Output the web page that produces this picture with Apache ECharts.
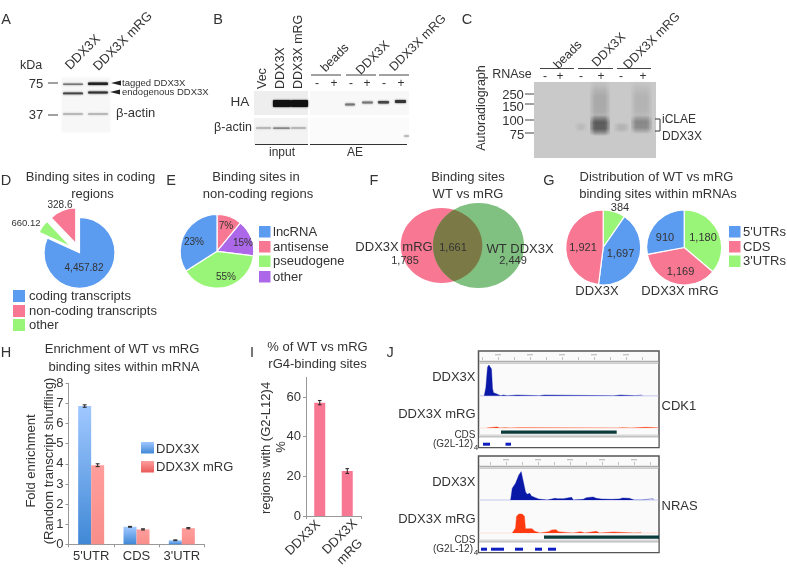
<!DOCTYPE html>
<html><head><meta charset="utf-8">
<style>html,body{margin:0;padding:0;background:#fff}#c{width:787px;height:569px;filter:blur(0.35px)}</style>
<script src="https://cdn.jsdelivr.net/npm/echarts@6/dist/echarts.min.js"></script>
</head><body><div id="c"></div>
<script>
// ---------- data ----------
const BLUE='#5B9BF0',PINK='#F87792',GREEN='#99F577',PURPLE='#AC68E8';
const dNames=['coding transcripts','other','non-coding transcripts'];
const dValues=[4457.82,328.6,660.12];
const dLabels=['4,457.82','660.12','328.6'];
const eNames=['antisense','other','pseudogene','lncRNA'];
const eValues=[11,16,39,34];
const eLabels=['7%','15%','55%','23%'];
const g1Values=[384,1697,1921];
const g2Values=[1180,1169,910];
const vennLabels=['1,785','1,661','2,449'];
const hCategories=["5'UTR",'CDS',"3'UTR"];
const hWT=[6.87,0.87,0.2];
const hMut=[3.93,0.74,0.8];
const hWTerr=[0.06,0.02,0.02];
const hMuterr=[0.07,0.03,0.03];
const iCategories=['DDX3X','DDX3X mRG'];
const iValues=[57.2,22.7];
const iErr=[1.1,1.2];
// coverage tracks: [position, height]
const cdk1WT=[[40,0],[45,25],[47,50],[50,85],[54,92],[58,90],[62,80],[65,22],[68,9],[76,6],[78,0],[90,0],[92,2],[98,2],[100,0],[110,0],[112,2],[140,2],[142,0],[207,0],[208,2],[222,2],[223,0],[433,0],[434,2],[452,2],[453,0],[498,0],[499,2],[518,2],[519,0]];
const cdk1Mut=[[48,0],[49,3],[78,3],[79,0],[88,0],[89,1],[102,1],[103,0],[120,0],[121,1],[145,1],[146,0],[445,0],[446,1],[460,1],[461,0],[487,0],[488,2],[530,2],[531,1],[568,1]];
const nrasWT=[[120,0],[125,35],[135,50],[145,75],[152,85],[158,82],[165,25],[170,17],[178,20],[183,12],[195,7],[205,3],[208,0],[231,0],[232,5],[255,5],[256,0],[261,0],[262,4],[280,4],[282,8],[305,8],[310,0],[340,2],[350,7],[370,9],[380,5],[395,3],[425,2],[428,0],[450,3],[460,6],[480,5],[495,0],[517,0],[518,4],[552,4],[553,0]];
const nrasMut=[[125,0],[135,15],[138,50],[145,57],[155,57],[162,50],[165,13],[185,13],[193,5],[195,0],[209,0],[210,4],[235,4],[245,9],[258,10],[265,4],[270,1],[295,1],[296,0],[311,0],[312,4],[332,4],[333,0],[345,0],[346,5],[380,5],[381,0],[390,0],[391,3],[432,3],[433,0],[494,0],[495,2],[515,2],[516,0]];
const cdsCDK1=[501,616.7], cdsNRAS=[544,659];
const g4CDK1=[[483,490],[505.5,511]];
const g4NRAS=[[481,487],[491,504],[515,523],[535,542],[548,556]];

// ---------- drawing helpers ----------
const FONT='"Liberation Sans",Arial,sans-serif', INK='#333';
const els=[];
function T(x,y,s,size,o){o=o||{};els.push({type:'text',x:x,y:y,rotation:(o.rot||0)*Math.PI/180,z:100,silent:true,
  style:{text:s,x:0,y:0,fontSize:size||13,fontFamily:FONT,fill:o.color||INK,align:o.align||'center',verticalAlign:'middle'}});}
function R(x,y,w,h,fill,o){o=o||{};const st={fill:fill};if(o.blur){st.shadowBlur=o.blur;st.shadowColor=o.sc||fill;}
  if(o.stroke){st.stroke=o.stroke;st.lineWidth=o.lw||1;}
  els.push({type:'rect',x:x,y:y,z:o.z||1,silent:true,shape:{x:0,y:0,width:w,height:h,r:o.r||0},style:st});}
function L(x1,y1,x2,y2,c,w){els.push({type:'line',z:5,silent:true,shape:{x1:x1,y1:y1,x2:x2,y2:y2},style:{stroke:c||'#333',lineWidth:w||1}});}
function Tri(x1,x2,y,h){els.push({type:'polygon',z:5,silent:true,shape:{points:[[x1,y],[x2,y-h],[x2,y+h]]},style:{fill:'#222'}});}
function band(x,y,w,h,c,blur){R(x,y,w,h,c,{blur:blur==null?2:blur,z:3,r:1});}
function swatch(x,y,w,h,c){R(x,y,w,h,c,{z:5});}
function soft(x,y,w,h,rgb,a){const n=4;for(let i=0;i<n;i++){
  const ins=i*1.5,al=a/n;
  const g=new echarts.graphic.LinearGradient(0,0,0,1,[{offset:0,color:'rgba('+rgb+',0)'},{offset:.35,color:'rgba('+rgb+','+al+')'},{offset:.65,color:'rgba('+rgb+','+al+')'},{offset:1,color:'rgba('+rgb+',0)'}]);
  R(x+ins,y,w-2*ins,h,g,{z:3,r:2});}}

// panel letters
[['A',6,20],['B',218,20],['C',467,20],['D',6,181],['E',171,181],['F',374,181],['G',549,181],['H',6,353],['I',252,353],['J',390,353]]
 .forEach(a=>T(a[1],a[2],a[0],14.5));

// ----- A -----
R(62,78,48,54,'#f7f7f7',{blur:3,sc:'#f7f7f7'});
band(63,83.5,20,1.4,'#777');band(88,82.5,20,2.6,'#222');
band(63,92.5,20,1.8,'#444');band(88,91.5,20,2,'#333');
band(63,113.5,20,1,'#999');band(88,113.5,20,1,'#999');
T(83,52.5,'DDX3X',13,{rot:45});T(123,41.5,'DDX3X mRG',13,{rot:45});
T(31,66,'kDa',12.5);T(36,84,'75',13);T(36,115,'37',13);
L(48,83,58,83,'#444',1);L(48,115,58,115,'#444',1);
Tri(111,121,83,2.5);Tri(110,120,92,2.5);
T(122,83,'tagged DDX3X',9.5,{align:'left'});T(122,92,'endogenous DDX3X',9.5,{align:'left'});
T(116,113,'β-actin',13,{align:'left'});

// ----- B -----
T(263,89,'Vec',12.5,{rot:90,align:'left'});T(281,89,'DDX3X',12.5,{rot:90,align:'left'});T(299,89,'DDX3X mRG',12.5,{rot:90,align:'left'});
T(240,102,'HA',13.5);T(233,128,'β-actin',12.5);
R(254,91,54,24,'#eeeeee');R(254,118,54,26,'#f3f3f3');R(310,91,99,24,'#f8f8f8');R(310,118,99,26,'#fbfbfb');
band(273,100,18,7,'#111');band(291,100,17,7,'#111');
band(256,127.5,15,1,'#999');band(273,127.5,17,1.2,'#777');band(291,127.5,15,1,'#999');
band(345,103.5,10,2,'#777');band(362,101.5,11,2,'#777');band(378,101,11,2.5,'#444');band(395,100,11,3,'#333');
band(404,135.5,5,1,'#999');
L(255,144.5,308,144.5,'#333',1);L(310,144.5,407,144.5,'#333',1);
T(282,153,'input',12);T(355,153,'AE',12);
L(311,75,341,75,'#444',1);L(346,75,376,75,'#444',1);L(379,75,409,75,'#444',1);
[[317,'-'],[334,'+'],[351,'-'],[367,'+'],[384,'-'],[401,'+']].forEach(a=>T(a[0],84,a[1],12));
T(335,58,'beads',12.5,{rot:45});T(373,58,'DDX3X',12.5,{rot:45});T(418,43,'DDX3X mRG',12.5,{rot:45});

// ----- C -----
R(534,82,122,76,'#c9c9c9');
soft(590,80,20,46,'130,130,130',.55);soft(631,80,21,46,'140,140,140',.4);
soft(590,115,20,21,'40,40,40',.95);soft(631,115,21,19,'70,70,70',.6);
soft(614,122,15,11,'150,150,150',.5);soft(575,122,12,10,'150,150,150',.35);
L(540,68.5,574,68.5,'#444',1);L(578,68.5,613,68.5,'#444',1);L(617,68.5,651,68.5,'#444',1);
[[545,'-'],[560,'+'],[581,'-'],[601,'+'],[621,'-'],[643,'+']].forEach(a=>T(a[0],77,a[1],12));
T(512,75,'RNAse',12.5);T(482,108,'Autoradiograph',12.5,{rot:90});
T(513,95,'250',13);T(513,107,'150',13);T(513,121,'100',13);T(517,135,'75',13);
[94,104,120,133].forEach(y=>L(525,y,534,y,'#444',1));
T(568,55,'beads',12.5,{rot:45});T(609,50,'DDX3X',12.5,{rot:45});T(652,41,'DDX3X mRG',12.5,{rot:45});
L(655,119,660,119,'#333',1);L(660,119,660,131,'#333',1);L(655,131,660,131,'#333',1);
T(662,120,'iCLAE',12,{align:'left'});T(662,137,'DDX3X',12,{align:'left'});

// ----- D -----
T(90.5,177,'Binding sites in coding',13);T(92.5,194,'regions',13);
T(84,268,dLabels[0],10);T(26,223,dLabels[1],9.5);T(60,205,dLabels[2],10);
[[BLUE,'coding transcripts',296],[PINK,'non-coding transcripts',311],[GREEN,'other',325]].forEach(a=>{
 swatch(13,a[2]-6,12,12,a[0]);T(29,a[2],a[1],13,{align:'left'});});

// ----- E -----
T(256,177,'Binding sites in',13);T(258,194,'non-coding regions',13);
T(226,226,eLabels[0],10);T(243,243,eLabels[1],10);T(226,277,eLabels[2],10);T(194,242,eLabels[3],10);
[[BLUE,'lncRNA',232],[PINK,'antisense',247],[GREEN,'pseudogene',261.5],[PURPLE,'other',277]].forEach(a=>{
 swatch(259,a[2]-6,11.5,11.5,a[0]);T(273,a[2],a[1],13,{align:'left'});});

// ----- F (Venn) -----
const vA={cx:441.5,cy:245.5,rx:40.8,ry:37.5}, vB={cx:478.5,cy:245.5,rx:45.5,ry:42.5};
function inE(e,x,y){return Math.pow((x-e.cx)/e.rx,2)+Math.pow((y-e.cy)/e.ry,2)<=1;}
function lens(){const pts=[];
  for(let i=0;i<360;i+=2){const t=i*Math.PI/180,x=vB.cx+vB.rx*Math.cos(t),y=vB.cy+vB.ry*Math.sin(t);
    if(inE(vA,x,y)&&x<vA.cx+vA.rx)pts.push([x,y,Math.atan2(y-245.5,x-458)]);}
  for(let i=0;i<360;i+=2){const t=i*Math.PI/180,x=vA.cx+vA.rx*Math.cos(t),y=vA.cy+vA.ry*Math.sin(t);
    if(inE(vB,x,y))pts.push([x,y,Math.atan2(y-245.5,x-458)]);}
  pts.sort((a,b)=>a[2]-b[2]);return pts.map(p=>[p[0],p[1]]);}
[[vA,PINK],[vB,'#80C080']].forEach(a=>els.push({type:'ellipse',z:2,silent:true,shape:{cx:a[0].cx,cy:a[0].cy,rx:a[0].rx,ry:a[0].ry},style:{fill:a[1]}}));
els.push({type:'polygon',z:3,silent:true,shape:{points:lens()},style:{fill:'#7B7A46'}});
T(468,177,'Binding sites',13);T(468,194,'WT vs mRG',13);
T(394,247,'DDX3X mRG',13);T(405,261,vennLabels[0],11);T(453,248,vennLabels[1],11);T(520,249,'WT DDX3X',13);T(513,261,vennLabels[2],11);

// ----- G -----
T(656.5,177,'Distribution of WT vs mRG',13);T(658,194,'binding sites within mRNAs',13);
T(620,208,'384',11);T(583,248,'1,921',11);T(620.5,254,'1,697',11);T(665,238,'910',11);T(703,238,'1,180',11);T(680.5,272,'1,169',11);
T(597,291,'DDX3X',13);T(680,291,'DDX3X mRG',13);
[[BLUE,"5'UTRs",232],[PINK,'CDS',247],[GREEN,"3'UTRs",261.5]].forEach(a=>{swatch(729,a[2]-6,11.5,11.5,a[0]);T(743,a[2],a[1],13,{align:'left'});});

// ----- H -----
const gBlue=new echarts.graphic.LinearGradient(0,0,0,1,[{offset:0,color:'#A0C8FF'},{offset:1,color:'#4088D6'}]);
const gPink=new echarts.graphic.LinearGradient(0,0,0,1,[{offset:0,color:'#FF9E9C'},{offset:1,color:'#F88E8A'}]);
const gPinkLeg=new echarts.graphic.LinearGradient(0,0,0,1,[{offset:0,color:'#FF9E9C'},{offset:1,color:'#E85A58'}]);
T(122,349,'Enrichment of WT vs mRG',13);T(124,367,'binding sites within mRNA',13);
T(31,461,'Fold enrichment',13,{rot:90});T(49,461,'(Random transcript shuffling)',13,{rot:90});
swatch(141,442,13,11.5,gBlue);swatch(141,461,13,11.5,gPinkLeg);
T(156,449,'DDX3X',13,{align:'left'});T(156,467,'DDX3X mRG',13,{align:'left'});

// ----- I -----
T(317.5,347,'% of WT vs mRG',13);T(317.5,364,'rG4-binding sites',13);
T(266,448,'regions with (G2-L12)4',13,{rot:90});T(281,447,'%',13,{rot:90});
T(303,538,iCategories[0],13,{rot:45});
T(340,537,iCategories[1].split(' ')[0],13,{rot:45});T(350,552,iCategories[1].split(' ')[1],13,{rot:45});

// ----- J frames -----
function frame(top,h,base1,base2,name,nameY,cds,g4,rulerStart){
  R(478.5,top,180.5,h,'#fafafa',{stroke:'#555',lw:1.5,z:1});
  R(479.3,top+10.5,179,1.5,'#e4e4e4',{z:2});L(479,top+10.3,659,top+10.3,'#888',.8);L(479,top+12.2,659,top+12.2,'#aaa',.8);
  R(479.3,top+h-13,179,2.5,'#d8d8d8',{z:2});L(479,top+h-10.5,659,top+h-10.5,'#999',.6);
  R(479.3,top+h-10,179,9.5,'#ffffff',{z:2});
  for(let x=rulerStart;x<658;x+=16)R(x,top+6,.7,3,'#aaa',{z:2});
  for(let x=rulerStart+16;x<650;x+=32)R(x-3,top+3,6,1.4,'#c4c4c4',{z:2});
  R(479.3,base1-.8,179,1.6,'#d8d8f4',{z:2});R(479.3,base2-.4,179,.8,'#fbe2da',{z:2});
  R(cds[0],base2+2.5,cds[1]-cds[0],3.2,'#0B3B3B',{z:6});
  g4.forEach(b=>R(b[0],top+h-4.8,b[1]-b[0],3,'#1020C0',{z:6}));
  T(475.5,base1-18,'DDX3X',13,{align:'right'});T(475.5,base2-14,'DDX3X mRG',13,{align:'right'});
  T(475.5,base2+7,'CDS',10,{align:'right'});T(473,top+h-3,'(G2L-12)',10,{align:'right'});T(476,top+h+0.5,'4',8);
  T(661.5,nameY,name,13,{align:'left'});
}
frame(351,96.5,395.7,428,'CDK1',406.5,cdsCDK1,g4CDK1,482);
frame(456,96.5,500,533,'NRAS',506,cdsNRAS,g4NRAS,490);

// ---------- axes ----------
const axisLine={lineStyle:{color:'#999',width:1}};
const grid=[
 {left:68.5,top:383.3,width:136,height:161},
 {left:306,top:377.3,width:55,height:138.7},
];
const xAxis=[
 {gridIndex:0,type:'category',data:hCategories,axisLine:axisLine,axisTick:{show:true,length:3,lineStyle:{color:'#999'}},axisLabel:{interval:0,color:INK,fontFamily:FONT,fontSize:13,margin:6}},
 {gridIndex:1,type:'category',data:iCategories,axisLine:axisLine,axisTick:{show:true,length:3,lineStyle:{color:'#999'}},axisLabel:{show:false}},
];
const yAxis=[
 {gridIndex:0,type:'value',min:0,max:8,interval:1,splitLine:{show:false},axisLine:Object.assign({show:true},axisLine),axisTick:{show:true,length:3,lineStyle:{color:'#999'}},axisLabel:{color:INK,fontFamily:FONT,fontSize:13,margin:5}},
 {gridIndex:1,type:'value',min:0,max:70,interval:20,splitLine:{show:false},axisLine:Object.assign({show:true},axisLine),axisTick:{show:true,length:3,lineStyle:{color:'#999'}},axisLabel:{color:INK,fontFamily:FONT,fontSize:13,margin:5,showMaxLabel:false}},
];
const series=[];
function pie(center,r,values,colors,extra){
  return Object.assign({type:'pie',center:center,radius:[0,r],startAngle:90,clockwise:true,silent:true,label:{show:false},labelLine:{show:false},animation:false,
    itemStyle:{borderColor:'#fff',borderWidth:1.2},
    data:values.map((v,i)=>({value:v,itemStyle:{color:colors[i]}}))},extra||{});
}
const dPie=pie([79.5,252.8],35.5,dValues,[BLUE,GREEN,PINK],{selectedMode:'multiple',selectedOffset:10});
dPie.data[1].selected=true;dPie.data[2].selected=true;
dPie.data.forEach((d,i)=>d.name=dNames[i]);
series.push(dPie);
const ePie=pie([217,251.3],36.8,eValues,[PINK,PURPLE,GREEN,BLUE]);ePie.data.forEach((d,i)=>d.name=eNames[i]);series.push(ePie);
series.push(pie([603.2,247.5],37.5,g1Values,[GREEN,BLUE,PINK]));
series.push(pie([684.2,247.5],37.5,g2Values,[GREEN,PINK,BLUE]));

series.push({type:'bar',name:'DDX3X',xAxisIndex:0,yAxisIndex:0,data:hWT,barWidth:13,barGap:0,itemStyle:{color:gBlue},silent:true});
series.push({type:'bar',name:'DDX3X mRG',xAxisIndex:0,yAxisIndex:0,data:hMut,barWidth:13,barGap:0,itemStyle:{color:gPink},silent:true});
series.push({type:'bar',xAxisIndex:1,yAxisIndex:1,data:iValues,barWidth:11,itemStyle:{color:PINK},silent:true});
function errSeries(xi,vals,errs,off,cap){
  return {type:'custom',xAxisIndex:xi,yAxisIndex:xi,silent:true,z:5,data:vals.map((v,i)=>[i,v-errs[i],v+errs[i]]),
    renderItem:function(p,api){const a=api.coord([api.value(0),api.value(1)]),b=api.coord([api.value(0),api.value(2)]),x=a[0]+off;
      const st={stroke:'#222',lineWidth:1};
      return {type:'group',children:[
        {type:'line',shape:{x1:x,y1:a[1],x2:x,y2:b[1]},style:st},
        {type:'line',shape:{x1:x-cap,y1:a[1],x2:x+cap,y2:a[1]},style:st},
        {type:'line',shape:{x1:x-cap,y1:b[1],x2:x+cap,y2:b[1]},style:st}]};}};
}
series.push(errSeries(0,hWT,hWTerr,-6.5,2));
series.push(errSeries(0,hMut,hMuterr,6.5,2));
series.push(errSeries(1,iValues,iErr,0,1.8));

// J tracks
function track(base,data,color){
  const gi=grid.length;
  grid.push({left:479.3,width:179,top:base-31,height:31});
  xAxis.push({gridIndex:gi,type:'value',min:25,max:568,show:false});
  yAxis.push({gridIndex:gi,type:'value',min:0,max:93,show:false});
  series.push({type:'line',xAxisIndex:gi,yAxisIndex:gi,data:data,symbol:'none',silent:true,z:4,
    lineStyle:{width:.4,color:color},itemStyle:{color:color},areaStyle:{color:color,opacity:1}});
}
track(395.7,cdk1WT,'#0A18A8');
track(428,cdk1Mut,'#FF3A10');
track(500,nrasWT,'#0A18A8');
track(533,nrasMut,'#FF3A10');

const chart=echarts.init(document.getElementById('c'),null,{renderer:'canvas',width:787,height:569});
chart.setOption({animation:false,backgroundColor:'#fff',graphic:{elements:els},grid:grid,xAxis:xAxis,yAxis:yAxis,series:series});
</script></body></html>
